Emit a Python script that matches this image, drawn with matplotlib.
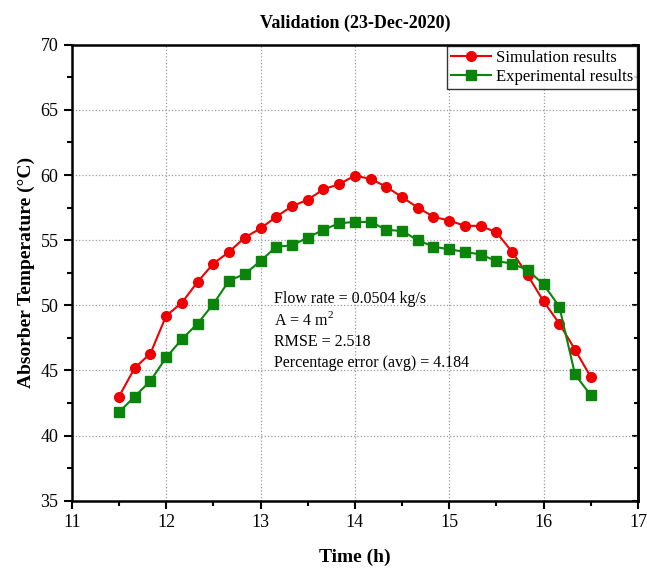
import numpy as np
import matplotlib.pyplot as plt
from matplotlib.ticker import MultipleLocator

plt.rcParams['font.family'] = ['Liberation Serif', 'DejaVu Serif']
plt.rcParams['mathtext.fontset'] = 'custom'
plt.rcParams['mathtext.rm'] = 'Liberation Serif'

# Time of day (h), 10 minute steps
time_h = [11.5, 11.667, 11.833, 12.0, 12.167, 12.333, 12.5, 12.667, 12.833, 13.0, 13.167,
          13.333, 13.5, 13.667, 13.833, 14.0, 14.167, 14.333, 14.5, 14.667, 14.833, 15.0,
          15.167, 15.333, 15.5, 15.667, 15.833, 16.0, 16.167, 16.333, 16.5]

simulation = [43.0, 45.2, 46.3, 49.2, 50.2, 51.8, 53.2, 54.1, 55.2, 55.9, 56.8,
              57.6, 58.1, 58.9, 59.3, 59.95, 59.7, 59.1, 58.3, 57.5, 56.8, 56.5,
              56.1, 56.1, 55.6, 54.1, 52.3, 50.3, 48.6, 46.6, 44.5]

experimental = [41.8, 43.0, 44.2, 46.0, 47.4, 48.6, 50.1, 51.9, 52.4, 53.4, 54.5,
                54.6, 55.2, 55.8, 56.3, 56.4, 56.4, 55.8, 55.7, 55.0, 54.5, 54.3,
                54.1, 53.9, 53.4, 53.2, 52.7, 51.6, 49.9, 44.7, 43.1]

info_lines = ['Flow rate = 0.0504 kg/s', 'A = 4 m$^2$', 'RMSE = 2.518',
              'Percentage error (avg) = 4.184']

fig = plt.figure(figsize=(6.47, 5.73), dpi=100)
ax = fig.add_axes([0.111, 0.126, 0.875, 0.796])

ax.plot(time_h, simulation, color='#ee0000', marker='o', markersize=7, lw=1.5,
        label='Simulation results')
ax.plot(time_h, experimental, color='#0b840b', marker='s', markersize=6.5, lw=1.5,
        label='Experimental results')

ax.set_xlim(11, 17)
ax.set_ylim(35, 70)
ax.xaxis.set_major_locator(MultipleLocator(1))
ax.xaxis.set_minor_locator(MultipleLocator(0.5))
ax.yaxis.set_major_locator(MultipleLocator(5))
ax.yaxis.set_minor_locator(MultipleLocator(2.5))
ax.grid(True, which='major', color='#9a9a9a', linestyle=':', linewidth=0.9)

for s in ax.spines.values():
    s.set_linewidth(1.8)
ax.tick_params(which='major', direction='out', length=6, width=1.5, labelsize=13)
ax.tick_params(which='minor', direction='out', length=3.5, width=1.5)

# inward ticks on the right-hand spine
right = ax.secondary_yaxis('right')
right.yaxis.set_major_locator(MultipleLocator(5))
right.yaxis.set_minor_locator(MultipleLocator(2.5))
right.tick_params(which='major', direction='in', length=4, width=1.5, labelright=False)
right.tick_params(which='minor', direction='in', length=3, width=1.5)
right.spines['right'].set_linewidth(1.8)

ax.set_xlabel('Time (h)', fontsize=14, fontweight='bold', labelpad=13)
ax.set_ylabel('Absorber Temperature (°C)', fontsize=14, fontweight='bold', labelpad=4)
ax.set_title('Validation (23-Dec-2020)', fontsize=13, fontweight='bold', pad=12)

leg = ax.legend(loc='upper right', fontsize=12, frameon=True, fancybox=False,
                edgecolor='black', borderpad=0.25, handlelength=2.4,
                handletextpad=0.3, labelspacing=0.2, borderaxespad=0.05)
leg.get_frame().set_linewidth(1.0)

for i, line in enumerate(info_lines):
    ax.text(13.14, 50.5 - i * 1.65, line, fontsize=11.5, va='center', ha='left')

fig.savefig('out.png', dpi=100)
